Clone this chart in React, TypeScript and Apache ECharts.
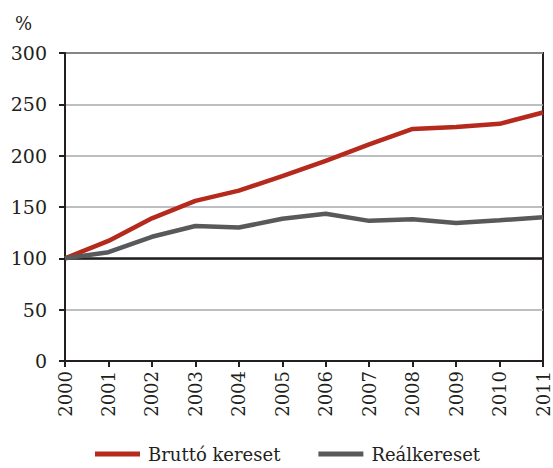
import React, { useEffect, useRef } from "react";
import * as echarts from "echarts";

const years = ["2000","2001","2002","2003","2004","2005","2006","2007","2008","2009","2010","2011"];
const brutto = [100, 117, 139, 156, 166, 180, 195, 211, 226, 228, 231, 242];
const real = [100, 106, 121, 131.5, 130, 138.5, 143.5, 136.5, 138, 134.5, 137, 140];
const yTicks = { min: 0, max: 300, interval: 50 };

const FONT = "DejaVu Serif, serif";

export default function App() {
  const ref = useRef<HTMLDivElement>(null);
  useEffect(() => {
    if (!ref.current) return;
    const chart = echarts.init(ref.current, null, { renderer: "svg" });
    chart.setOption({
      animation: false,
      textStyle: { fontFamily: FONT },
      grid: { left: 65, right: 10, top: 53, bottom: 107, show: true, borderColor: "#231f20", borderWidth: 2, backgroundColor: "transparent" },
      graphic: [
        { type: "text", left: 15, top: 14, style: { text: "%", fontFamily: FONT, fontSize: 18, fill: "#231f20" } },
      ],
      legend: {
        bottom: 0,
        left: 90,
        itemWidth: 45,
        itemHeight: 5,
        itemGap: 38,
        icon: "rect",
        textStyle: { fontFamily: FONT, fontSize: 18, color: "#231f20", padding: [0, 0, 0, 3] },
        data: ["Bruttó kereset", "Reálkereset"],
      },
      xAxis: {
        type: "category",
        data: years,
        boundaryGap: false,
        axisLine: { lineStyle: { color: "#231f20", width: 2 } },
        axisTick: { show: true, length: 6, alignWithLabel: true, lineStyle: { color: "#231f20", width: 2 } },
        axisLabel: { rotate: 90, fontSize: 18, color: "#231f20", fontFamily: FONT, margin: 10, interval: 0 },
        splitLine: { show: false },
      },
      yAxis: {
        type: "value",
        min: yTicks.min,
        max: yTicks.max,
        interval: yTicks.interval,
        axisLine: { show: true, lineStyle: { color: "#231f20", width: 2 } },
        axisTick: { show: true, length: 6, lineStyle: { color: "#231f20", width: 2 } },
        axisLabel: { fontSize: 19, color: "#231f20", fontFamily: FONT, margin: 18 },
        splitLine: { show: true, lineStyle: { color: "#a7a9ac", width: 1.5 } },
      },
      series: [
        {
          name: "Bruttó kereset",
          type: "line",
          data: brutto,
          symbol: "none",
          color: "#b52a1c",
          lineStyle: { color: "#b52a1c", width: 4.5 },
          z: 3,
          markLine: {
            silent: true,
            symbol: "none",
            label: { show: false },
            lineStyle: { color: "#231f20", width: 2.5, type: "solid" },
            data: [{ yAxis: 100 }],
            z: 1,
          },
        },
        {
          name: "Reálkereset",
          type: "line",
          data: real,
          symbol: "none",
          color: "#58595b",
          lineStyle: { color: "#58595b", width: 4.5 },
          z: 4,
        },
      ],
    });
    return () => chart.dispose();
  }, []);
  return <div ref={ref} style={{ width: 553, height: 468, position: "absolute", left: 0, top: 0 }} />;
}
